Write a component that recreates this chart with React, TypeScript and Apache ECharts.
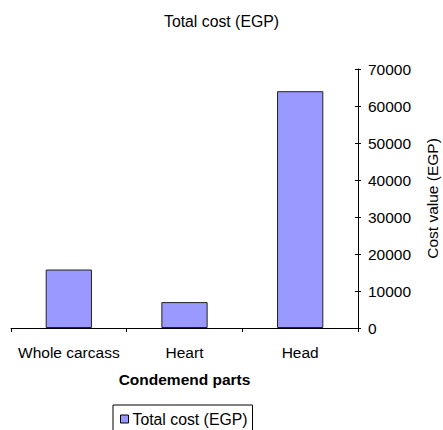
import React, { useEffect, useRef } from "react";
import * as echarts from "echarts";

const categories = ["Whole carcass", "Heart", "Head"];
const totalCost = [15800, 7000, 64000];
const seriesName = "Total cost (EGP)";
const yTicks = { min: 0, max: 70000, interval: 10000 };

export default function App() {
  const ref = useRef<HTMLDivElement>(null);
  useEffect(() => {
    if (!ref.current) return;
    const chart = echarts.init(ref.current, null, { renderer: "svg" });
    const font = "Liberation Sans, Arial, sans-serif";
    const fs = 15.5;
    chart.setOption({
      animation: false,
      textStyle: { fontFamily: font },
      title: {
        text: "Total cost (EGP)",
        left: "center",
        top: 13,
        padding: 0,
        textStyle: { fontSize: 15.8, fontWeight: "normal", color: "#000", fontFamily: font },
      },
      legend: {
        data: [seriesName],
        top: 405,
        left: 113,
        itemWidth: 8,
        itemHeight: 8,
        itemGap: 4,
        icon: "rect",
        borderColor: "#000",
        borderWidth: 1,
        borderRadius: 0,
        padding: [6, 5, 6, 7],
        textStyle: { fontSize: 15.8, color: "#000", fontFamily: font, padding: [0, 0, 0, -1] },
        itemStyle: { borderColor: "#000", borderWidth: 1 },
      },
      grid: {
        left: 11,
        right: 85,
        top: 69,
        bottom: 102,
        containLabel: false,
        outerBoundsMode: "none",
      },
      xAxis: {
        type: "category",
        data: categories,
        name: "Condemend parts",
        nameLocation: "middle",
        nameGap: 43,
        nameTextStyle: { fontSize: fs, fontWeight: "bold", color: "#000", fontFamily: font },
        axisLine: { lineStyle: { color: "#000", width: 1 } },
        axisTick: { show: true, length: 4, lineStyle: { color: "#000" } },
        axisLabel: { fontSize: fs, color: "#000", margin: 16, interval: 0, fontFamily: font },
      },
      yAxis: [
        {
          type: "value",
          position: "right",
          min: yTicks.min,
          max: yTicks.max,
          interval: yTicks.interval,
          name: "Cost value (EGP)",
          nameLocation: "middle",
          nameGap: 66,
          nameRotate: 90,
          nameTextStyle: { fontSize: fs, color: "#000", fontFamily: font },
          axisLine: { show: true, lineStyle: { color: "#000", width: 1 } },
          axisTick: { show: true, length: 3, inside: true, lineStyle: { color: "#000" } },
          axisLabel: { fontSize: fs, color: "#000", margin: 10, fontFamily: font, formatter: (v: number) => String(v) },
          splitLine: { show: false },
        },
        {
          type: "value",
          position: "right",
          min: yTicks.min,
          max: yTicks.max,
          interval: yTicks.interval,
          axisLine: { show: false },
          axisTick: { show: true, length: 3, inside: false, lineStyle: { color: "#000" } },
          axisLabel: { show: false },
          splitLine: { show: false },
        },
      ],
      series: [
        {
          name: seriesName,
          type: "bar",
          data: totalCost,
          barWidth: "40%",
          itemStyle: { color: "#9999ff", borderColor: "#222", borderWidth: 1 },
        },
      ],
    });
    return () => chart.dispose();
  }, []);
  return (
    <div
      ref={ref}
      style={{ position: "absolute", left: 0, top: 0, width: 443, height: 430 }}
    />
  );
}
